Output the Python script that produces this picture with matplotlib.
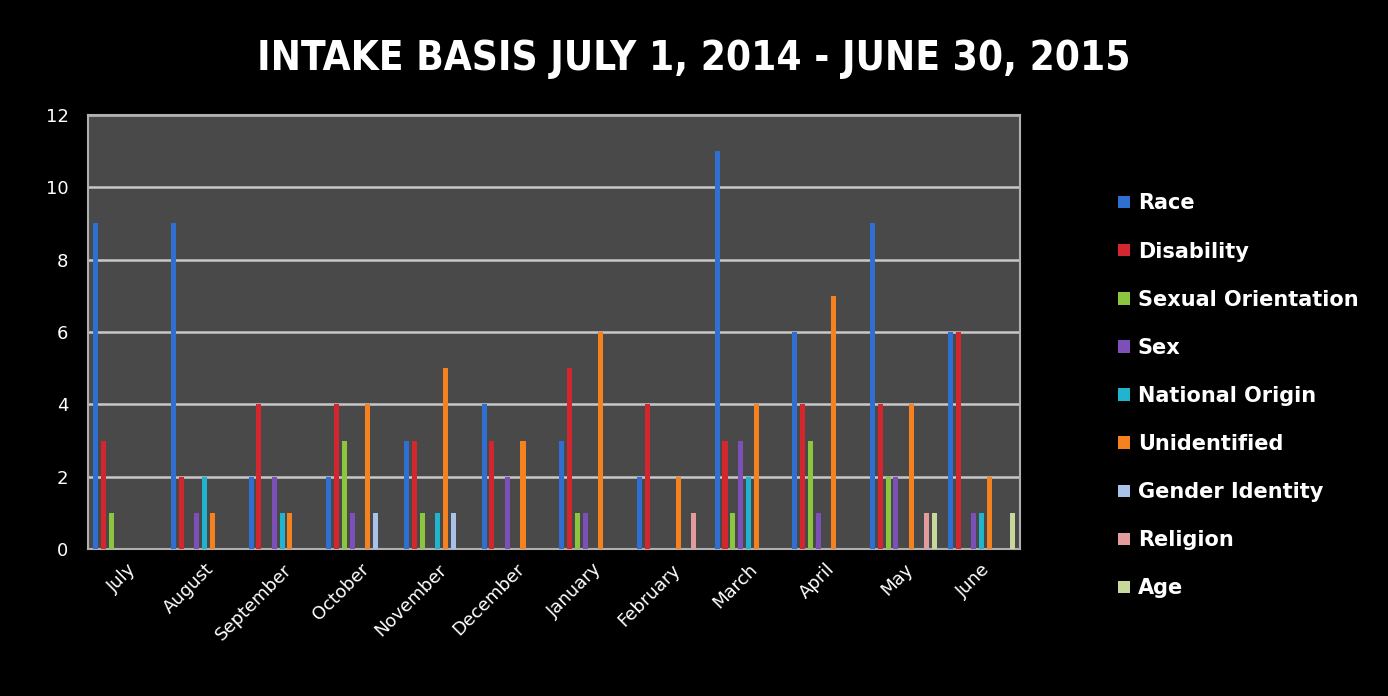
import matplotlib.pyplot as plt
import numpy as np

months = ['July', 'August', 'September', 'October', 'November', 'December',
          'January', 'February', 'March', 'April', 'May', 'June']
series = ['Race', 'Disability', 'Sexual Orientation', 'Sex', 'National Origin',
          'Unidentified', 'Gender Identity', 'Religion', 'Age']

race = [9, 9, 2, 2, 3, 4, 3, 2, 11, 6, 9, 6]
disability = [3, 2, 4, 4, 3, 3, 5, 4, 3, 4, 4, 6]
sexual_orientation = [1, 0, 0, 3, 1, 0, 1, 0, 1, 3, 2, 0]
sex = [0, 1, 2, 1, 0, 2, 1, 0, 3, 1, 2, 1]
national_origin = [0, 2, 1, 0, 1, 0, 0, 0, 2, 0, 0, 1]
unidentified = [0, 1, 1, 4, 5, 3, 6, 2, 4, 7, 4, 2]
gender_identity = [0, 0, 0, 1, 1, 0, 0, 0, 0, 0, 0, 0]
religion = [0, 0, 0, 0, 0, 0, 0, 1, 0, 0, 1, 0]
age = [0, 0, 0, 0, 0, 0, 0, 0, 0, 0, 1, 1]

values = [race, disability, sexual_orientation, sex, national_origin,
          unidentified, gender_identity, religion, age]
colors = ['#2f6fd2', '#d4262e', '#8cc63e', '#7d4fb8', '#20b4cf',
          '#f5821f', '#a9c2ea', '#e39b9b', '#c6d99b']

fig = plt.figure(figsize=(13.88, 6.96), dpi=100, facecolor='black')
ax = fig.add_axes([0.0634, 0.211, 0.6716, 0.624])
ax.set_facecolor('#494949')

x = np.arange(len(months))
slot = 0.1
for i, (name, vals, c) in enumerate(zip(series, values, colors)):
    ax.bar(x + (i - 4) * slot, vals, width=0.065, color=c, label=name,
           edgecolor='none', zorder=3)

ax.set_xlim(-0.5, len(months) - 0.5)
ax.set_ylim(0, 12)
ax.set_yticks(range(0, 13, 2))
ax.yaxis.grid(True, color='#c8c8c8', linewidth=1.8)
ax.set_axisbelow(True)
for s in ax.spines.values():
    s.set_color('#b0b0b0')
    s.set_linewidth(1.5)

ax.set_xticks(x)
ax.set_xticklabels(months, rotation=45, ha='right', rotation_mode='anchor')
ax.tick_params(axis='both', colors='white', labelsize=13, length=0)
ax.tick_params(axis='x', pad=8)
ax.tick_params(axis='y', pad=14)

title = 'Intake Basis July 1, 2014 - June 30, 2015'
fig.text(0.5, 0.915, title.upper(), color='white', fontsize=29,
         fontweight='bold', ha='center', va='center', fontstretch='condensed')

leg = fig.legend(loc='upper left', bbox_to_anchor=(0.792, 0.749),
                 frameon=False, labelcolor='white', handlelength=0.55,
                 handleheight=0.55, handletextpad=0.4, labelspacing=1.35,
                 prop={'size': 15, 'weight': 'bold'})

fig.savefig('out.png', dpi=100, facecolor='black')
